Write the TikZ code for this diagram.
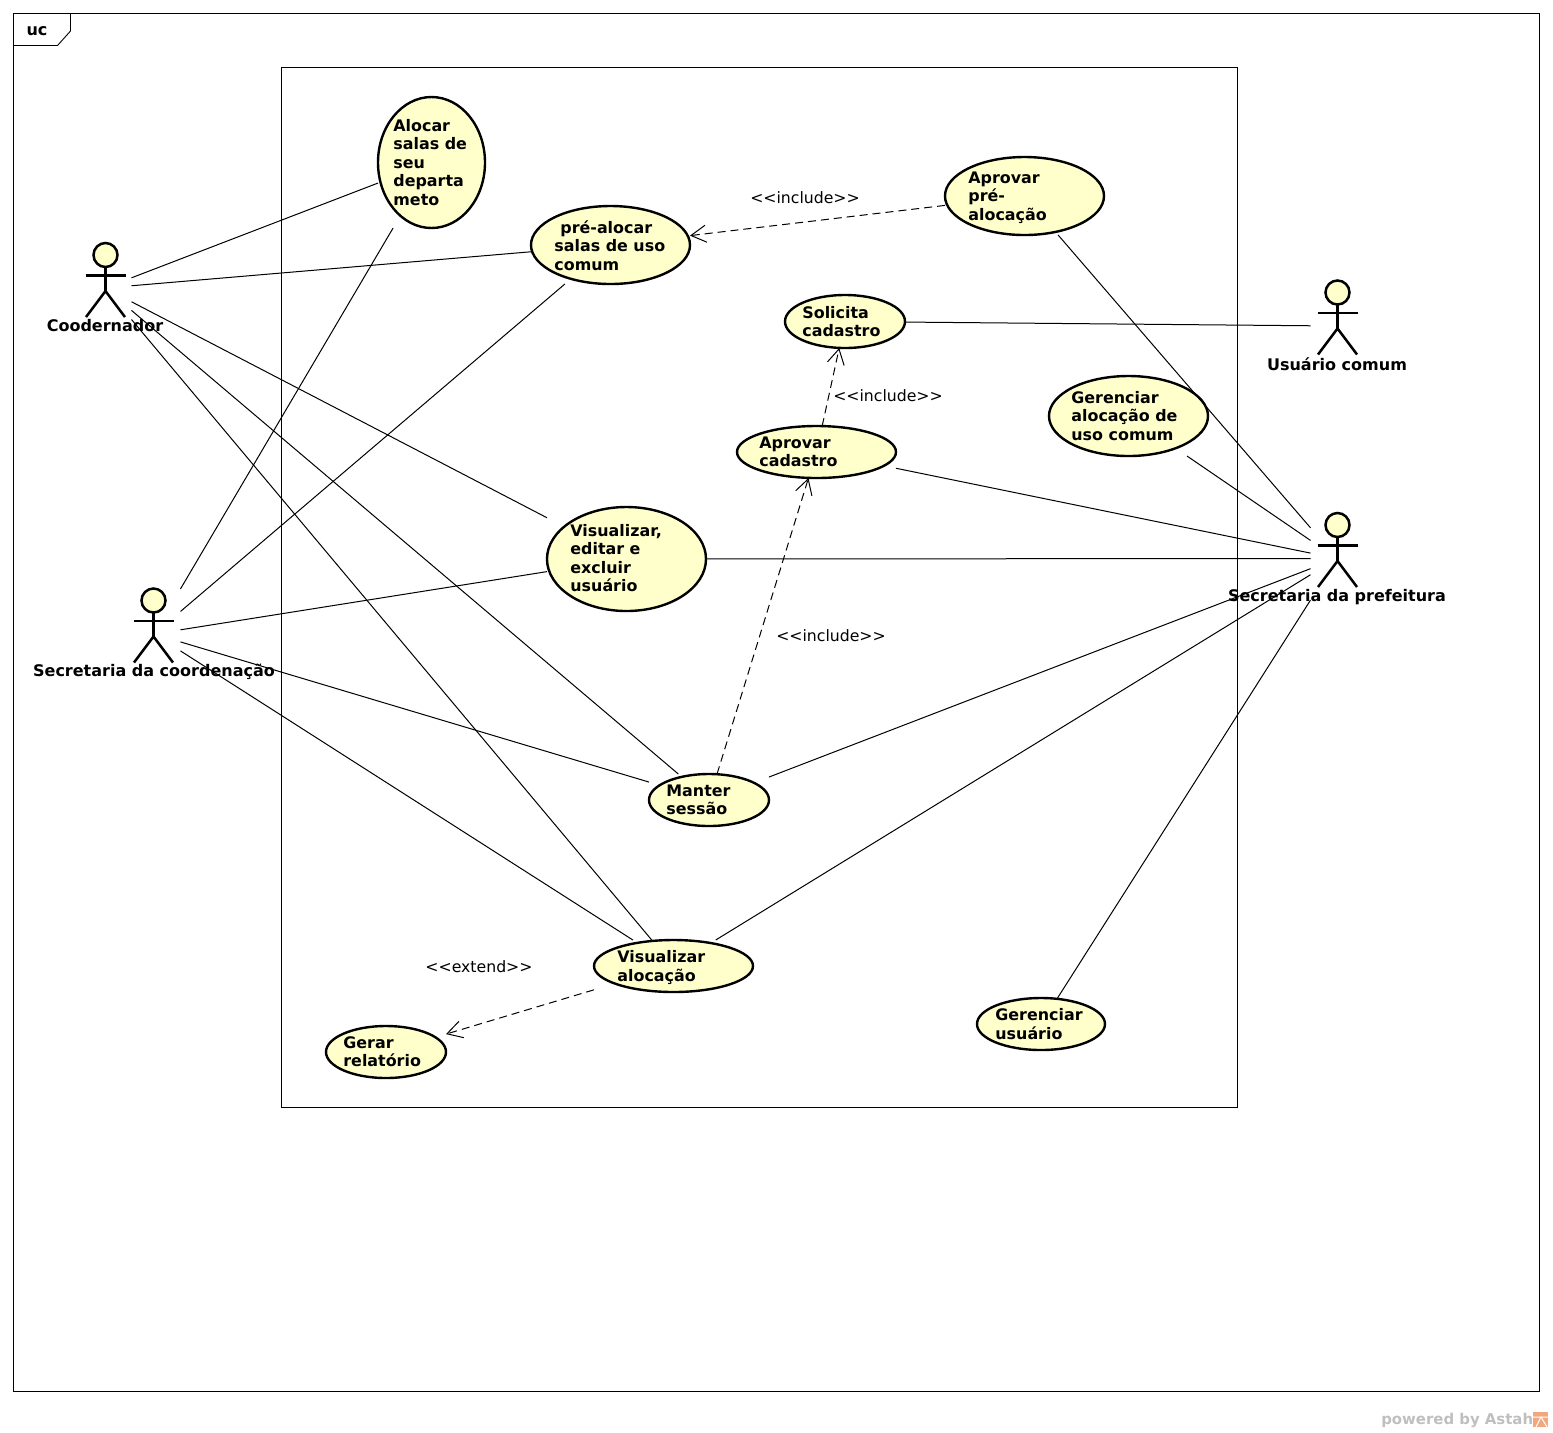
\documentclass[tikz,border=0pt]{standalone}
\usepackage{fontspec}
\setmainfont{DejaVu Sans}
\usetikzlibrary{arrows.meta,shapes.geometric}
\definecolor{ucfill}{HTML}{FFFFCC}
\definecolor{astahicon}{HTML}{F2A77E}
\tikzset{
	ucshape/.style={ellipse, draw=black, line width=1.2pt, fill=ucfill, inner sep=0pt, outer sep=0pt},
	ucbox/.style={rectangle, inner sep=0pt, outer sep=0pt},
	uctext/.style={anchor=north west, align=left, inner sep=0pt, font=\fontsize{7.95}{9.25}\selectfont\bfseries},
	actorbox/.style={rectangle, minimum width=26.5pt, minimum height=45pt, inner sep=0pt, outer sep=0pt},
	actorline/.style={line width=1.25pt},
	actorname/.style={inner sep=0pt, font=\fontsize{8}{9.25}\selectfont\bfseries},
	stereo/.style={inner sep=0pt, font=\fontsize{7.85}{9.25}\selectfont},
	assoc/.style={line width=0.5pt},
	dep/.style={line width=0.5pt, dashed, dash pattern=on 4pt off 2.5pt, -{Straight Barb[length=7.5pt,width=8.5pt,line width=0.5pt]}},
}
% ellipse and the box that connectors stop at
\def\usecase(#1)(#2)(#3:#4){
	\node[ucshape, minimum width=#3*0.5pt, minimum height=#4*0.5pt] (#1shape) at (#2) {};
	\node[ucbox, minimum width=#3*0.5pt, minimum height=#4*0.5pt] (#1) at (#2) {};
}
% head at (#1,#2)
\def\actorman(#1,#2){
	\draw[actorline] (#1, #2+12.5) -- (#1, #2+36);
	\draw[actorline] (#1-20, #2+20.5) -- (#1+20, #2+20.5);
	\draw[actorline] (#1-19.5, #2+62) -- (#1, #2+36) -- (#1+19.5, #2+62);
	\draw[actorline, fill=ucfill] (#1, #2) circle (6pt);
}

\begin{document}
\begin{tikzpicture}[x=0.5pt, y=-0.5pt]
	\useasboundingbox (0, 0) rectangle (1553, 1432);

	% frame
	\draw[line width=0.45pt] (13.5, 13.5) rectangle (1539.5, 1391.5);
	\draw[line width=0.45pt] (13.5, 45.5) -- (57.5, 45.5) -- (70.5, 31) -- (70.5, 13.5);
	\node[actorname] (frametag) at (37, 31) {uc};
	\draw[line width=0.35pt] (281.5, 67) rectangle (1237.5, 1107.5);

	% use cases
	\usecase(alocar)(431.5, 162.5)(107:131);
	\node[uctext] (alocartext) at (393, 119) {Alocar\\salas de\\seu\\departa\\meto};
	\usecase(prealocar)(610.5, 245)(159:78);
	\node[uctext] (prealocartext) at (554, 220) {\hspace*{3pt}pré-alocar\\salas de uso\\comum};
	\usecase(aprovarpre)(1024.5, 196)(159:78);
	\node[uctext] (aprovarpretext) at (968, 171) {Aprovar\\pré-\\alocação};
	\usecase(solicita)(845, 321.5)(120:53);
	\node[uctext] (solicitatext) at (802, 306) {Solicita\\cadastro};
	\usecase(gerenciaruso)(1128.5, 416)(159:80);
	\node[uctext] (gerenciarusotext) at (1071, 391) {Gerenciar\\alocação de\\uso comum};
	\usecase(aprovarcad)(816.5, 452)(159:52);
	\node[uctext] (aprovarcadtext) at (759, 436) {Aprovar\\cadastro};
	\usecase(visualizar)(626.5, 559)(159:104);
	\node[uctext] (visualizartext) at (570, 524) {Visualizar,\\editar e\\excluir\\usuário};
	\usecase(manter)(709, 800)(120:52);
	\node[uctext] (mantertext) at (666, 784) {Manter\\sessão};
	\usecase(visalocacao)(673.5, 966)(159:52);
	\node[uctext] (visalocacaotext) at (617, 950) {Visualizar\\alocação};
	\usecase(gerarrel)(386, 1052)(120:52);
	\node[uctext] (gerarreltext) at (343, 1036) {Gerar\\relatório};
	\usecase(gerenciarusu)(1041, 1024)(128:52);
	\node[uctext] (gerenciarusutext) at (995, 1008) {Gerenciar\\usuário};

	% actors
	\node[actorbox] (coodernador) at (105, 288) {};
	\actorman(105.5, 255);
	\node[actorname] (coodernadorname) at (105, 326) {Coodernador};

	\node[actorbox] (secretaria) at (154, 634) {};
	\actorman(153.5, 600.5);
	\node[actorname] (secretarianame) at (154, 672) {Secretaria da coordenação};

	\node[actorbox] (usuario) at (1337, 326) {};
	\actorman(1337.5, 292.5);
	\node[actorname] (usuarioname) at (1337, 364) {Usuário comum};

	\node[actorbox] (prefeitura) at (1337, 558.5) {};
	\actorman(1337.5, 525);
	\node[actorname] (prefeituraname) at (1337, 597) {Secretaria da prefeitura};

	% associations
	\foreach \uc in {alocar, prealocar, visualizar, manter, visalocacao}{
		\draw[assoc] (coodernador) -- (\uc);
		\draw[assoc] (secretaria) -- (\uc);
	}
	\draw[assoc] (solicita) -- (usuario);
	\foreach \uc in {aprovarpre, gerenciaruso, aprovarcad, visualizar, manter, visalocacao, gerenciarusu}{
		\draw[assoc] (\uc) -- (prefeitura);
	}

	% include and extend
	\draw[dep] (aprovarpre) -- (prealocar);
	\draw[dep] (aprovarcad) -- (solicita);
	\draw[dep] (manter) -- (aprovarcad);
	\draw[dep] (visalocacao) -- (gerarrel);
	\node[stereo] (includea) at (805, 198) {<{}<include>{}>};
	\node[stereo] (includeb) at (888, 396) {<{}<include>{}>};
	\node[stereo] (includec) at (831, 636) {<{}<include>{}>};
	\node[stereo] (extenda) at (479, 967) {<{}<extend>{}>};

	% watermark
	\node[inner sep=0pt, anchor=east, text=black!25, font=\fontsize{7.45}{9.25}\selectfont\bfseries] (astah) at (1533.5, 1420) {powered by Astah};
	\fill[astahicon] (1533, 1412) rectangle (1548, 1427);
	\draw[white, line width=0.5pt] (1533, 1417) -- (1548, 1417) (1536, 1427) -- (1541, 1417) -- (1547, 1427);
\end{tikzpicture}
\end{document}
